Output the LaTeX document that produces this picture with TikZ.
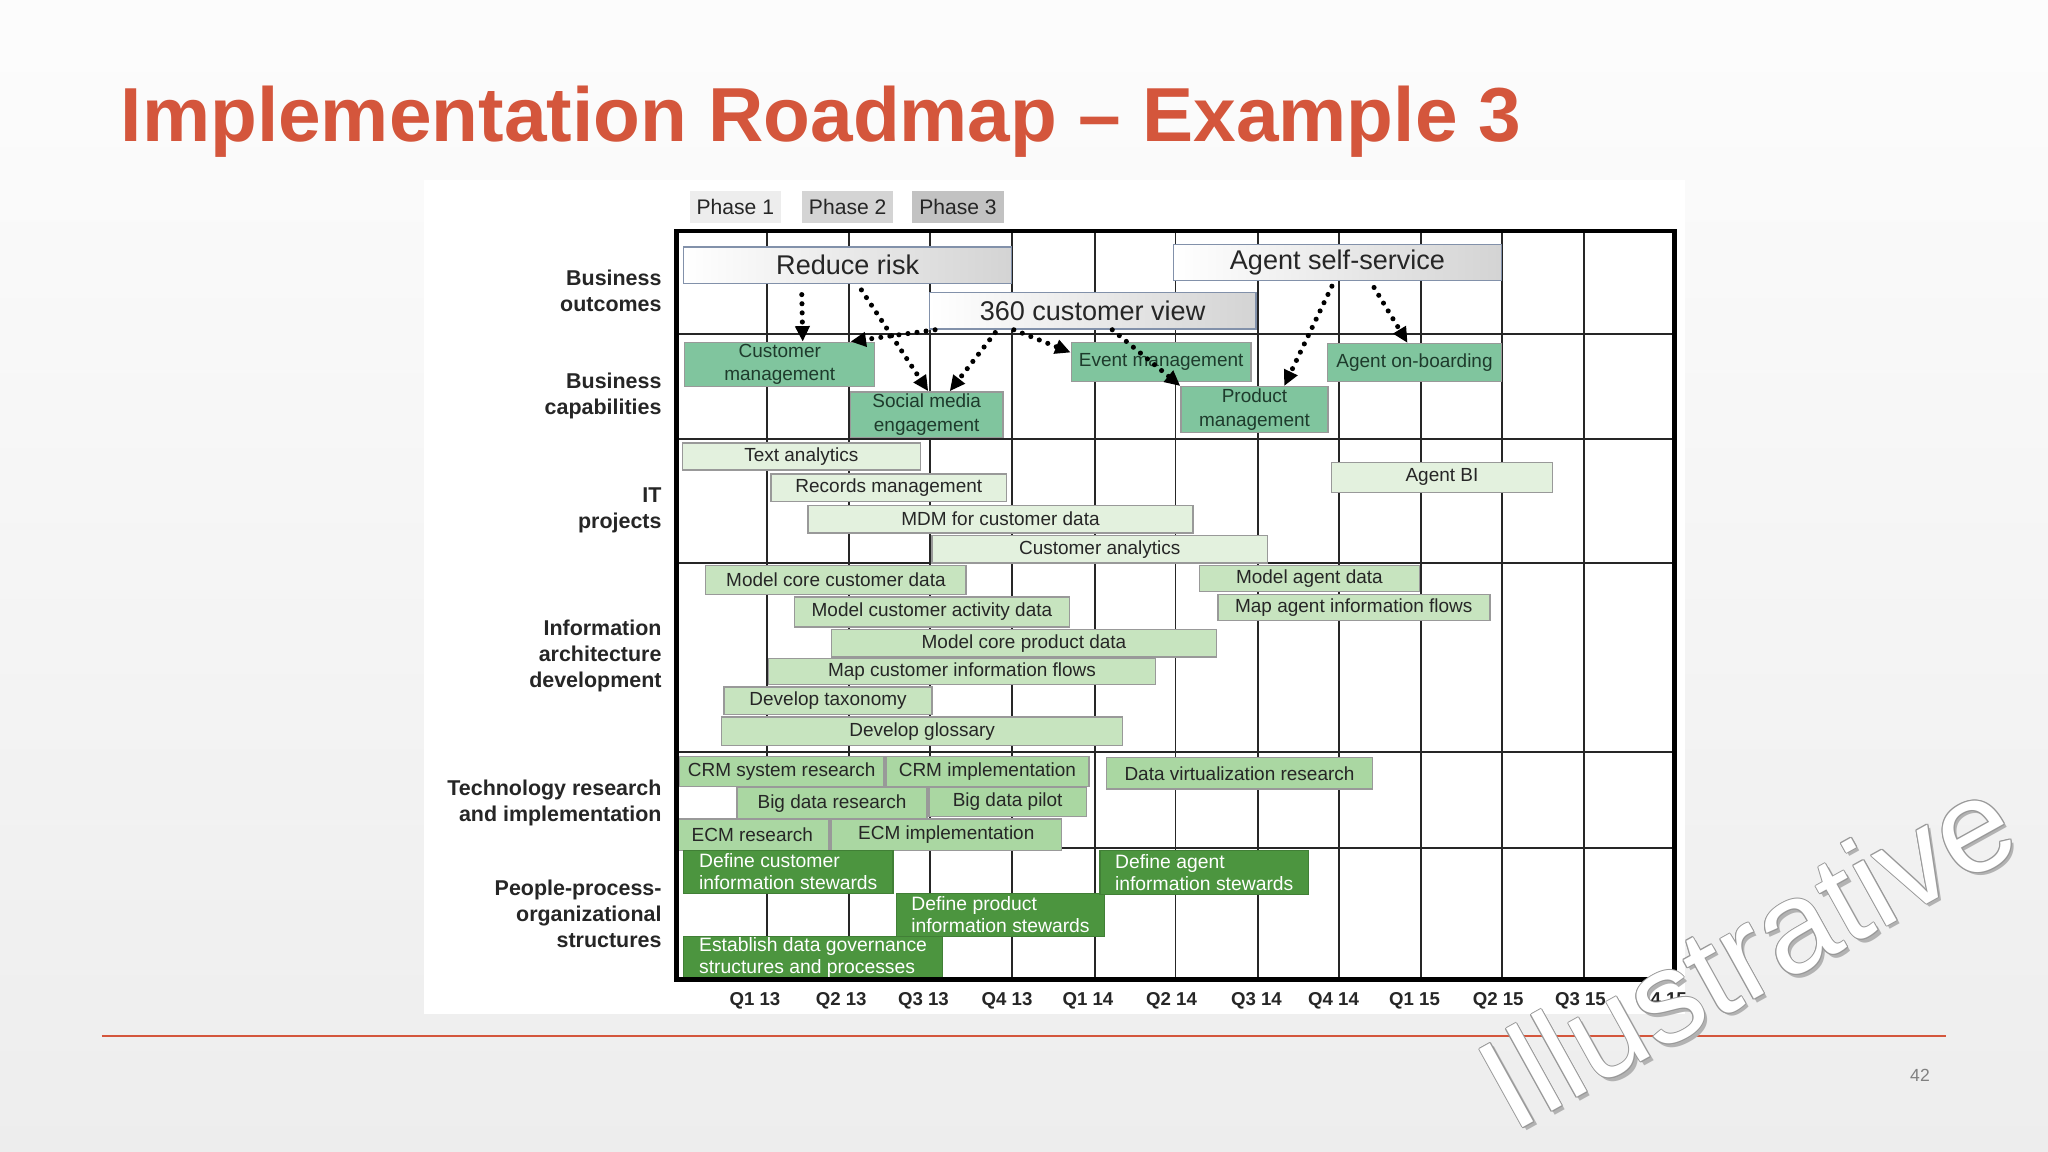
\documentclass[tikz,border=0pt]{standalone}
\usepackage{fontspec}
\setmainfont{Liberation Sans}
\usepackage{xcolor}
\usepackage{tikz}
\usetikzlibrary{arrows.meta, positioning, calc}

\definecolor{titleRed}{HTML}{D4563C}
\definecolor{capGreen}{HTML}{80C59E}
\definecolor{itGreen}{HTML}{E3F1DE}
\definecolor{iaGreen}{HTML}{C7E4BF}
\definecolor{techGreen}{HTML}{AAD7A2}
\definecolor{pplGreen}{HTML}{4C953F}
\definecolor{outBorder}{HTML}{8291AA}
\definecolor{capText}{HTML}{1E3B2C}

\begin{document}
\begin{tikzpicture}[x=0.013061cm, y=-0.013061cm,
  span/.style 2 args={minimum width=#1*0.3703pt, minimum height=#2*0.3703pt},
  box/.style={draw=black!40, inner sep=0pt, line width=0.4pt, text=black!85},
  outcome/.style={box, draw=outBorder, left color=white, right color=black!17, font=\fontsize{7.7}{9}\selectfont},
  capability/.style={box, fill=capGreen, text=capText, align=center, font=\fontsize{5.4}{6.7}\selectfont},
  itproject/.style={box, fill=itGreen, font=\fontsize{5.4}{6.5}\selectfont},
  infoarch/.style={box, fill=iaGreen, font=\fontsize{5.4}{6.5}\selectfont},
  techbox/.style={box, fill=techGreen, font=\fontsize{5.4}{6.5}\selectfont},
  peoplebox/.style={box, fill=pplGreen, draw=pplGreen!85!black, text=white, align=left, font=\fontsize{5.5}{6.3}\selectfont},
  rowtag/.style={anchor=east, align=right, inner sep=0pt, text=black!85, font=\bfseries\fontsize{6.1}{7.4}\selectfont},
  phasetag/.style={inner sep=0pt, span={70}{25}, text=black!85, font=\fontsize{6}{7}\selectfont},
  quarter/.style={text=black!85, font=\bfseries\fontsize{5.3}{6}\selectfont},
  depends/.style={line width=1.45pt, dash pattern=on 0pt off 2.6pt, line cap=round, -{Triangle[length=4.4pt, width=4pt]}},
  gridline/.style={line width=0.55pt, black!85},
  watermark/.style={rotate=29, inner sep=0pt, font=\fontsize{37}{40}\selectfont}
]
\useasboundingbox (0,0) rectangle (1568,882);
\fill[top color=black!1, bottom color=black!7] (0,0) rectangle (1568,882);
\fill[white] (325,138) rectangle (1290,776);

%------------- Title
\node[anchor=base west, inner sep=0pt, text=titleRed, font=\bfseries\fontsize{21.8}{24}\selectfont] (title) at (92,108) {Implementation Roadmap -- Example 3};

%------------- Phases
\node[phasetag, fill=black!7] (ph1) at (563,158.5) {Phase 1};
\node[phasetag, fill=black!17] (ph2) at (649,158.5) {Phase 2};
\node[phasetag, fill=black!24] (ph3) at (733.5,158.5) {Phase 3};

%------------- Grid
\foreach \gx in {587,650,712,775,838,900,963,1025,1088,1150,1213}
  \draw[gridline] (\gx,177) -- (\gx,750);
\foreach \gy in {256,336,431,576,649}
  \draw[gridline] (518,\gy) -- (1282,\gy);

%------------- Rows
\node[rowtag] (bo) at (507,223) {Business\\outcomes};
\node[rowtag] (bc) at (507,303) {Business\\capabilities};
\node[rowtag] (itp) at (507,391) {IT\\projects};
\node[rowtag] (iad) at (507,502) {Information\\architecture\\development};
\node[rowtag] (tri) at (507,615) {Technology research\\and implementation};
\node[rowtag] (ppo) at (507,700) {People-process-\\organizational\\structures};

%------------- Business outcomes
\node[outcome, span={252}{28}] (risk) at (649,203) {Reduce risk};
\node[outcome, span={252}{28}] (agent) at (1024,201) {Agent self-service};
\node[outcome, span={251}{28}] (view) at (836.5,238) {360 customer view};

%------------- Business capabilities
\node[capability, span={146}{34}] (custmgmt) at (597,279) {Customer\\management};
\node[capability, span={117}{35}] (social) at (709.5,317.5) {Social media\\engagement};
\node[capability, span={138}{30}] (event) at (889,277) {Event management};
\node[capability, span={113}{35}] (prodmgmt) at (960.5,313.5) {Product\\management};
\node[capability, span={134}{29}] (onboard) at (1083,277.5) {Agent on-boarding};

%------------- IT projects
\node[itproject, span={183}{21}] (textan) at (613.5,349.5) {Text analytics};
\node[itproject, span={181}{21}] (records) at (680.5,373.5) {Records management};
\node[itproject, span={296}{21}] (mdm) at (766,397.5) {MDM for customer data};
\node[itproject, span={258}{21}] (custan) at (842,420.5) {Customer analytics};
\node[itproject, span={170}{23}] (agentbi) at (1104,365.5) {Agent BI};

%------------- Information architecture
\node[infoarch, span={200}{22}] (mccd) at (640,444) {Model core customer data};
\node[infoarch, span={211}{23}] (mcad) at (713.5,468.5) {Model customer activity data};
\node[infoarch, span={296}{21}] (mcpd) at (784,492.5) {Model core product data};
\node[infoarch, span={297}{20}] (mcif) at (736.5,514) {Map customer information flows};
\node[infoarch, span={160}{21}] (taxo) at (634,536.5) {Develop taxonomy};
\node[infoarch, span={308}{22}] (gloss) at (706,560) {Develop glossary};
\node[infoarch, span={169}{20}] (mad) at (1002.5,443) {Model agent data};
\node[infoarch, span={209}{20}] (maif) at (1036.5,465) {Map agent information flows};

%------------- Technology
\node[techbox, span={157}{23}] (crmres) at (598.5,590.5) {CRM system research};
\node[techbox, span={156}{23}] (crmimp) at (756,590.5) {CRM implementation};
\node[techbox, span={146}{24}] (bdres) at (637,615) {Big data research};
\node[techbox, span={121}{22}] (bdpilot) at (771.5,614) {Big data pilot};
\node[techbox, span={118}{24}] (ecmres) at (576,639) {ECM research};
\node[techbox, span={177}{24}] (ecmimp) at (724.5,639) {ECM implementation};
\node[techbox, span={204}{24}] (dvres) at (949,592) {Data virtualization research};

%------------- People
\node[peoplebox, span={161}{33}] (dcis) at (603.5,667.5) {Define customer\\information stewards};
\node[peoplebox, span={160}{33}] (dpis) at (766,700.5) {Define product\\information stewards};
\node[peoplebox, span={199}{32}] (edg) at (622.5,733) {Establish data governance\\structures and processes};
\node[peoplebox, span={160}{34}] (dais) at (922,668) {Define agent\\information stewards};

\draw[line width=1.2pt] (518,177) rectangle (1282,750);

%------------- Dependencies
\draw[depends, shorten <=3pt] ($(risk.south west)!.36!(risk.south east)$) -- ($(custmgmt.north west)!.62!(custmgmt.north east)$);
\draw[depends, shorten <=2pt] ($(risk.south west)!.53!(risk.south east)$) -- ($(social.north west)!.51!(social.north east)$);
\draw[depends] ($(view.south west)!.02!(view.south east)$) -- ($(custmgmt.north west)!.87!(custmgmt.north east)$);
\draw[depends, shorten <=1pt] ($(view.south west)!.21!(view.south east)$) -- ($(social.north west)!.65!(social.north east)$);
\draw[depends] ($(view.south west)!.26!(view.south east)$) -- ($(event.north west)!.27!(event.south west)$);
\draw[depends] ($(view.south west)!.56!(view.south east)$) -- (prodmgmt.north west);
\draw[depends, shorten <=1.5pt] ($(agent.south west)!.49!(agent.south east)$) -- ($(prodmgmt.north west)!.70!(prodmgmt.north east)$);
\draw[depends, shorten <=2pt] ($(agent.south west)!.60!(agent.south east)$) -- ($(onboard.north west)!.46!(onboard.north east)$);

%------------- Quarters
\foreach \qx/\qname [count=\qi] in {578/Q1 13, 644/Q2 13, 707/Q3 13, 771/Q4 13, 833/Q1 14, 897/Q2 14, 962/Q3 14, 1021/Q4 14, 1083/Q1 15, 1147/Q2 15, 1210/Q3 15, 1272/Q4 15}
  \node[quarter] (q\qi) at (\qx,766) {\qname};

%------------- Footer
\draw[titleRed, line width=0.5pt] (78,793) -- (1490,793);
\node[text=black!50, font=\fontsize{5}{6}\selectfont] (pageno) at (1470,823) {42};

%------------- Watermark
\node[watermark, text=black!30] (wmshadow) at (1339.5,730.5) {Illustrative};
\foreach \wa [count=\wi] in {0,45,...,315}
  \node[watermark, text=black!40] (wmo\wi) at ($(1337,728)+(\wa:0.8)$) {Illustrative};
\node[watermark, text=white] (wm) at (1337,728) {Illustrative};
\end{tikzpicture}
\end{document}
